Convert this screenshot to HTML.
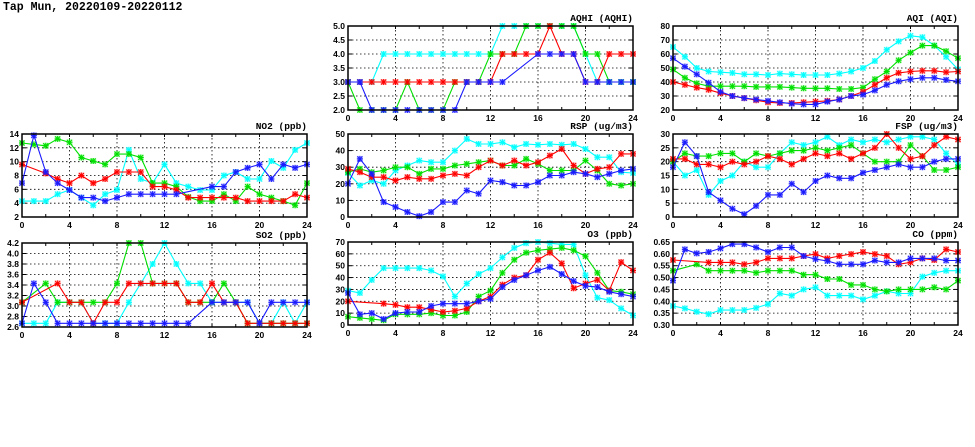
<!DOCTYPE html>
<html><head><meta charset="utf-8"><style>
html,body{margin:0;padding:0;background:#fff;width:975px;height:447px;overflow:hidden}
svg{display:block}
text{font-family:"Liberation Sans",sans-serif;font-weight:bold;font-size:8.5px;fill:#000}
text.ttl{font-family:"Liberation Mono",monospace;font-size:9.5px}
</style></head><body>
<svg id="chart" width="975" height="447" xmlns="http://www.w3.org/2000/svg">
<text x="3" y="10" style="font-family:'Liberation Mono',monospace;font-size:11.5px">Tap Mun, 20220109-20220112</text>
</svg>
<script>
const hours = [0,1,2,3,4,5,6,7,8,9,10,11,12,13,14,15,16,17,18,19,20,21,22,23,24];
const xTicks = [0,4,8,12,16,20,24];
const seriesColors = ["#00ffff","#00e000","#ff0000","#1a1aff"];
const seriesNames = ["cyan","green","red","blue"];
const N = null;
// AQHI
const aqhiCyan  = [3,3,3,4,4,4,4,4,4,4,4,4,4,5,5,5,5,5,5,5,4,3,3,3,3];
const aqhiGreen = [3,2,2,2,2,3,2,2,2,3,3,3,4,4,4,5,5,5,5,5,4,4,3,3,3];
const aqhiRed   = [3,3,3,3,3,3,3,3,3,3,3,3,3,4,4,4,4,5,4,4,3,3,4,4,4];
const aqhiBlue  = [3,3,2,2,2,2,2,2,2,2,3,3,3,3,N,N,4,4,4,4,3,3,3,3,3];
const aqhiTicks = [2,2.5,3,3.5,4,4.5,5];
// AQI
const aqiCyan  = [65,58,50,47.5,47,46.5,45.5,45.5,45,46,45.5,45,45,45,46,47.5,50,55,63,69,73,72,66,58,49];
const aqiGreen = [49,43,39,37,37,37,37,36.5,36.5,36.5,36,35.5,35.5,35.5,35,35,36,42,47.5,55.5,61,66,66,62,57];
const aqiRed   = [40,38,36,34.5,32,30,28.5,27,25.5,25,25,25.5,26,26.5,27.5,30,33,38,43,46.5,47.5,48,48,47,47.5];
const aqiBlue  = [57,51,45.5,39.5,33,30,28.5,27.5,26.5,25.5,24.5,24,24,26,27.5,30,31,34,38,40.5,42,43,43,41.5,40.5];
const aqiTicks = [20,30,40,50,60,70,80];
// NO2
const no2Cyan  = [4.3,4.3,4.3,5.3,5.9,4.8,3.7,5.3,5.9,11.7,7.5,6.9,9.6,6.9,6.4,5.9,5.9,8.0,8.5,7.5,7.5,10.1,9.1,11.7,12.7];
const no2Green = [12.7,12.5,12.3,13.3,12.8,10.6,10.1,9.6,11.1,11.1,10.6,6.9,6.9,6.4,4.9,4.3,4.3,5.3,4.3,6.4,5.3,4.8,4.3,3.7,6.9];
const no2Red   = [9.6,N,8.3,7.5,6.9,8.0,6.9,7.5,8.5,8.5,8.5,6.4,6.4,5.9,4.8,4.8,4.8,4.8,4.8,4.3,4.3,4.3,4.3,5.3,4.8];
const no2Blue  = [6.9,13.8,8.5,6.9,5.9,4.8,4.8,4.3,4.8,5.3,5.3,5.3,5.3,5.3,N,N,6.4,6.4,8.5,9.1,9.6,7.5,9.6,9.1,9.6];
const no2Ticks = [2,4,6,8,10,12,14];
// SO2
const so2Cyan  = [2.67,2.67,2.67,3.07,3.07,3.07,2.67,2.67,2.67,3.07,3.43,3.8,4.2,3.8,3.43,3.43,3.07,3.07,3.07,3.07,2.67,2.67,3.07,2.67,3.07];
const so2Green = [3.07,N,3.43,3.07,3.07,3.07,3.07,3.07,3.43,4.2,4.2,3.43,3.43,3.43,3.07,3.07,3.07,3.43,3.07,2.67,2.67,2.67,2.67,2.67,2.67];
const so2Red   = [3.07,N,N,3.43,3.07,3.07,2.67,3.07,3.07,3.43,3.43,3.43,3.43,3.43,3.07,3.07,3.43,3.07,3.07,2.67,2.67,2.67,2.67,2.67,2.67];
const so2Blue  = [2.67,3.43,3.07,2.67,2.67,2.67,2.67,2.67,2.67,2.67,2.67,2.67,2.67,2.67,2.67,N,3.07,3.07,3.07,3.07,2.67,3.07,3.07,3.07,3.07];
const so2Ticks = [2.6,2.8,3.0,3.2,3.4,3.6,3.8,4.0,4.2];
// RSP
const rspCyan  = [26.5,19,22,20,28,31,34,33,33,40,47,44,44,45,42,44,43.5,44,43.5,44,41,36,36,27,26.5];
const rspGreen = [27,29,27,28,30,30,26,29,29,31,32,33,34,31,31,35,32,28,28,28,34,28,20,19,20];
const rspRed   = [29,27,24,24,22,24,23,23,25,26,25,30,34,31,34,31,33,37,41,31,26,29,30,38,38];
const rspBlue  = [20,35,26,9,6,3,0.5,3,9,9,16,14,22,21,19,19,21,25,25,27,26,24,26,28,29];
const rspTicks = [0,10,20,30,40,50];
// FSP
const fspCyan  = [20,15,17,8,13,15,20,18,18,23,27,26,27,29,26,28,27,28,27,28,29,29,28,23,19];
const fspGreen = [20,23,22,22,23,23,20,23,22,23,24,24,25,24,25,26,23,20,20,20,26,22,17,17,18];
const fspRed   = [21,21,19,19,18,20,19,20,22,21,19,21,23,22,23,21,23,25,30,25,21,22,26,29,28];
const fspBlue  = [18,27,22,9,6,3,1,4,8,8,12,9,13,15,14,14,16,17,18,19,18,18,20,21,21];
const fspTicks = [0,5,10,15,20,25,30];
// O3
const o3Cyan  = [29,27,38,48,48,48,48,46,41,24,35,43,48,57,65,69,70,69,68,68,42,23,21,14,8];
const o3Green = [7,6,5,4,9,9,9,10,8,8,11,24,29,44,55,61,63,64,65,63,58,44,29,28,26];
const o3Red   = [20,N,N,18,17,15,15,13,11,12,14,20,24,34,40,42,55,61,52,31,35,38,29,53,46];
const o3Blue  = [27,9,10,5,10,11,11,16,18,18,18,20,22,32,38,42,46,49,43,37,33,32,28,26,24];
const o3Ticks = [0,10,20,30,40,50,60,70];
// CO
const coCyan  = [0.380,0.370,0.356,0.346,0.363,0.363,0.363,0.372,0.388,0.433,0.424,0.450,0.459,0.424,0.424,0.424,0.408,0.424,0.442,0.433,0.433,0.504,0.520,0.529,0.529];
const coGreen = [0.529,N,0.556,0.529,0.529,0.529,0.529,0.520,0.529,0.529,0.529,0.512,0.512,0.494,0.494,0.469,0.469,0.450,0.442,0.450,0.450,0.450,0.459,0.450,0.487];
const coRed   = [0.574,N,N,0.564,0.564,0.564,0.556,0.564,0.581,0.581,0.581,0.591,0.599,0.581,0.591,0.599,0.608,0.599,0.591,0.556,0.564,0.581,0.574,0.619,0.608];
const coBlue  = [0.487,0.619,0.602,0.608,0.623,0.641,0.641,0.627,0.608,0.627,0.627,0.591,0.578,0.570,0.556,0.556,0.556,0.572,0.564,0.564,0.581,0.581,0.581,0.572,0.572];
const coTicks = [0.30,0.35,0.40,0.45,0.50,0.55,0.60,0.65];

const panels = [
 {name:"aqhi",title:"AQHI (AQHI)",x0:348,x1:633,y0:26,y1:110,ticks:aqhiTicks,dec:1,series:[aqhiCyan,aqhiGreen,aqhiRed,aqhiBlue]},
 {name:"aqi",title:"AQI (AQI)",x0:673,x1:958,y0:26,y1:110,ticks:aqiTicks,dec:0,series:[aqiCyan,aqiGreen,aqiRed,aqiBlue]},
 {name:"no2",title:"NO2 (ppb)",x0:22,x1:307,y0:134,y1:217,ticks:no2Ticks,dec:0,series:[no2Cyan,no2Green,no2Red,no2Blue]},
 {name:"rsp",title:"RSP (ug/m3)",x0:348,x1:633,y0:134,y1:217,ticks:rspTicks,dec:0,series:[rspCyan,rspGreen,rspRed,rspBlue]},
 {name:"fsp",title:"FSP (ug/m3)",x0:673,x1:958,y0:134,y1:217,ticks:fspTicks,dec:0,series:[fspCyan,fspGreen,fspRed,fspBlue]},
 {name:"so2",title:"SO2 (ppb)",x0:22,x1:307,y0:243,y1:327,ticks:so2Ticks,dec:1,series:[so2Cyan,so2Green,so2Red,so2Blue]},
 {name:"o3",title:"O3 (ppb)",x0:348,x1:633,y0:242,y1:325,ticks:o3Ticks,dec:0,series:[o3Cyan,o3Green,o3Red,o3Blue]},
 {name:"co",title:"CO (ppm)",x0:673,x1:958,y0:242,y1:325,ticks:coTicks,dec:2,series:[coCyan,coGreen,coRed,coBlue]}
];
const svg = document.getElementById('chart');
const NS = "http://www.w3.org/2000/svg";
function mk(tag, attrs, parent){const e=document.createElementNS(NS,tag);for(const k in attrs)e.setAttribute(k,attrs[k]);(parent||svg).appendChild(e);return e;}
panels.forEach(p=>{
  const g = mk('g',{});
  
  
  const ymin=p.ticks[0], ymax=p.ticks[p.ticks.length-1];
  const sx = v => p.x0 + (v-0)/24*(p.x1-p.x0);
  const sy = v => p.y1 - (v-ymin)/(ymax-ymin)*(p.y1-p.y0);
  p.ticks.forEach((t,i)=>{
    const y=sy(t);
    if(i>0 && i<p.ticks.length-1){
      const l=mk('line',{x1:p.x0,x2:p.x1,y1:y,y2:y,stroke:'#000','stroke-width':0.8,'stroke-dasharray':'1.5,2.5'},g);
      
      
    }
    mk('line',{x1:p.x0,x2:p.x0+4,y1:y,y2:y,stroke:'#000','stroke-width':1},g);
    mk('line',{x1:p.x1,x2:p.x1-4,y1:y,y2:y,stroke:'#000','stroke-width':1},g);
    const tx=mk('text',{x:p.x0-3,y:y+3,'text-anchor':'end'},g);
    tx.textContent=t.toFixed(p.dec);
    
    
  });
  for(let h=2;h<24;h+=2){
    const x=sx(h);
    mk('line',{x1:x,x2:x,y1:p.y1,y2:p.y1-3,stroke:'#000','stroke-width':1},g);
    mk('line',{x1:x,x2:x,y1:p.y0,y2:p.y0+3,stroke:'#000','stroke-width':1},g);
  }
  xTicks.forEach((t,i)=>{
    const x=sx(t);
    if(i>0 && i<xTicks.length-1){
      const l=mk('line',{x1:x,x2:x,y1:p.y0,y2:p.y1,stroke:'#000','stroke-width':0.8,'stroke-dasharray':'1.5,2.5'},g);
      
      
    }
    const tx=mk('text',{x:x,y:p.y1+11,'text-anchor':'middle'},g);
    tx.textContent=t;
    
    
  });
  const ti=mk('text',{x:p.x1,y:p.y0-5,'text-anchor':'end','class':'ttl'},g);
  ti.textContent=p.title;
  
  
  p.series.forEach((arr,si)=>{
    const col=seriesColors[si];
    const sg=mk('g',{},g);
    
    
    let d='', pen=false;
    arr.forEach((v,i)=>{
      if(v===null) return;
      d += (pen?'L':'M')+sx(hours[i]).toFixed(1)+','+sy(v).toFixed(1);
      pen=true;
    });
    const path=mk('path',{d:d,fill:'none',stroke:col,'stroke-width':1.1},sg);
    
    
    arr.forEach((v,i)=>{
      if(v===null) return;
      const x=sx(hours[i]), y=sy(v);
      const m=mk('g',{},sg);
      
      
      mk('rect',{x:x-3,y:y-3,width:6,height:6,fill:col,opacity:0.3},m);
      mk('path',{d:`M${x-2.5},${y-2.5}L${x+2.5},${y+2.5}M${x-2.5},${y+2.5}L${x+2.5},${y-2.5}M${x},${y-3}L${x},${y+3}M${x-3},${y}L${x+3},${y}`,stroke:col,'stroke-width':1},m);
    });
  });
  const fr=mk('rect',{x:p.x0,y:p.y0,width:p.x1-p.x0,height:p.y1-p.y0,fill:'none',stroke:'#000','stroke-width':1.5},g);
  
  
});
</script>
</body></html>
